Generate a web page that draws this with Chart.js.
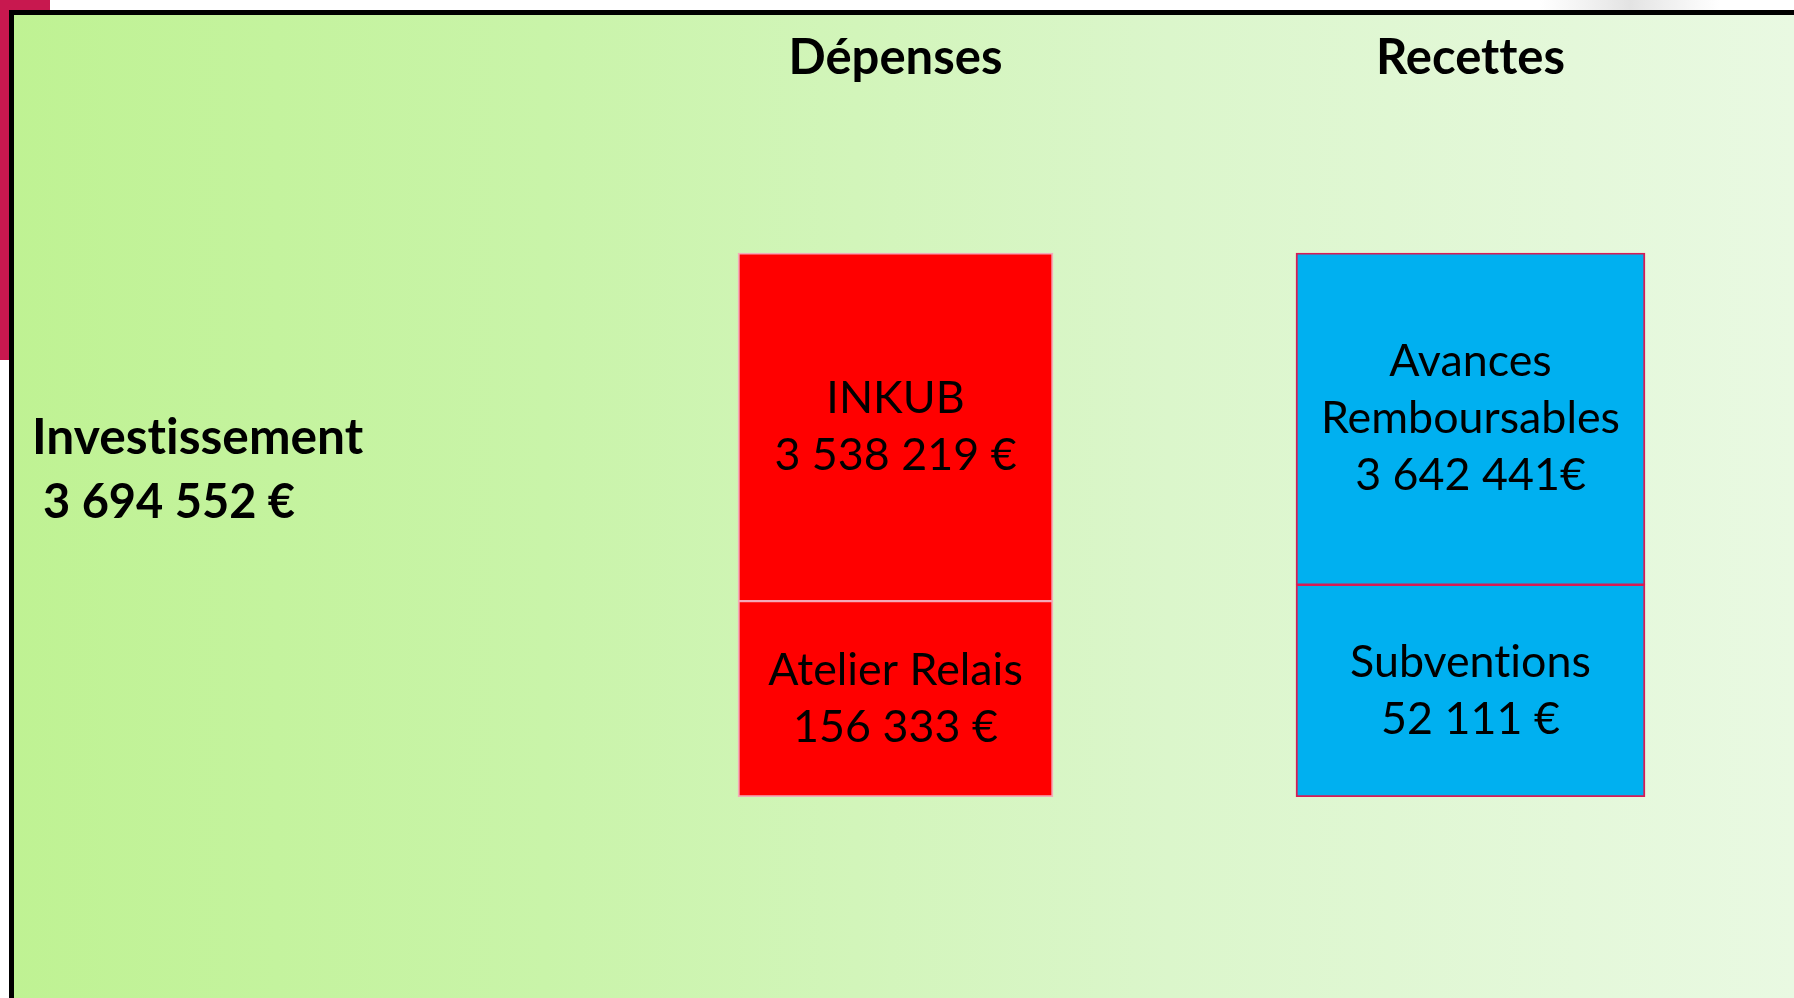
<!DOCTYPE html>
<html>
<head>
<meta charset="utf-8">
<script src="https://cdn.jsdelivr.net/npm/chart.js@4"></script>
<style>
  html, body { margin: 0; padding: 0; background: #fff; }
  canvas { display: block; }
</style>
</head>
<body>
<canvas id="myChart" width="1794" height="998"></canvas>
<script>
// columns of the chart
const categories = ['Dépenses', 'Recettes'];

// lower block of each column
const lowerNames = [['Atelier Relais'], ['Subventions']];
const lowerAmounts = [156333, 52111];
// upper block of each column
const upperNames = [['INKUB'], ['Avances', 'Remboursables']];
const upperAmounts = [3538219, 3642441];

// the blocks are not drawn to scale in the picture: share of column height (%) read off it
const lowerShares = [36, 39];
const upperShares = [64, 61];

// "3 642 441€" is written without the space in the original
const upperTight = [false, true];

const rowLabel = 'Investissement';

const FONT = 'Lato';

// format 3694552 -> "3 694 552 €"
function fmt(n, tight) {
  const s = String(n).replace(/\B(?=(\d{3})+(?!\d))/g, ' ');
  return s + (tight ? '€' : ' €');
}

// pick a font size so that text has a given width
function fitSize(text, weight, target) {
  const c = document.createElement('canvas').getContext('2d');
  c.font = weight + ' 100px ' + FONT;
  return 100 * target / c.measureText(text).width;
}

const total = lowerAmounts[0] + upperAmounts[0];

const headSize = fitSize('Dépenses', 'bold', 214);
const boxSize = fitSize('Remboursables', 'normal', 299);
const rowSize = fitSize(rowLabel, 'bold', 332);
const totalSize = fitSize(fmt(total, false), 'bold', 252);

const fills = ['#ff0000', '#00b0f0'];
const edges = ['#f4a9b8', '#d81b55'];
const widths = [315, 349];

// one dataset per block, only filled in its own column
const datasets = [];
categories.forEach((cat, i) => {
  datasets.push({
    label: lowerNames[i].join(' '),
    names: lowerNames[i],
    amount: fmt(lowerAmounts[i], false),
    data: categories.map((_, j) => (j === i ? lowerShares[i] : null)),
    stack: 'col',
    barThickness: widths[i],
    backgroundColor: fills[i],
    borderColor: edges[i],
    borderWidth: { left: 2, right: 2, bottom: 2, top: 1.5 },
    borderSkipped: false,
  });
});
categories.forEach((cat, i) => {
  datasets.push({
    label: upperNames[i].join(' '),
    names: upperNames[i],
    amount: fmt(upperAmounts[i], upperTight[i]),
    data: categories.map((_, j) => (j === i ? upperShares[i] : null)),
    stack: 'col',
    barThickness: widths[i],
    backgroundColor: fills[i],
    borderColor: edges[i],
    borderWidth: { left: 2, right: 2, top: 2, bottom: 1.5 },
    borderSkipped: false,
  });
});

// slide background: pink tab, green gradient, black frame
const backdrop = {
  id: 'backdrop',
  beforeDraw(chart) {
    const ctx = chart.ctx;
    ctx.save();
    ctx.fillStyle = '#ffffff';
    ctx.fillRect(0, 0, chart.width, chart.height);

    const shade = ctx.createLinearGradient(1540, 0, 1720, 0);
    shade.addColorStop(0, 'rgba(220,220,220,0)');
    shade.addColorStop(0.5, 'rgba(215,215,215,0.7)');
    shade.addColorStop(1, 'rgba(220,220,220,0)');
    ctx.fillStyle = shade;
    ctx.fillRect(1540, 0, 180, 10);

    ctx.fillStyle = '#c8184f';
    ctx.beginPath();
    ctx.roundRect(-60, -60, 110, 420, 40);
    ctx.fill();

    const g = ctx.createLinearGradient(9, 0, chart.width, 0);
    g.addColorStop(0, '#bff293');
    g.addColorStop(0.3, '#c9f4a9');
    g.addColorStop(0.65, '#dbf6cb');
    g.addColorStop(1, '#e9f9e2');
    ctx.fillStyle = g;
    ctx.fillRect(9, 10, chart.width, chart.height);

    ctx.fillStyle = '#000';
    ctx.fillRect(9, 10, chart.width, 5);
    ctx.fillRect(9, 10, 5, chart.height);
    ctx.restore();
    // keep "tt" as two letters, as in the original
    ctx.letterSpacing = '0.01px';
  }
};

// names and amounts written in the blocks, plus the row label on the left
const blockText = {
  id: 'blockText',
  afterDatasetsDraw(chart) {
    const ctx = chart.ctx;
    ctx.save();
    ctx.fillStyle = '#000';
    ctx.textAlign = 'center';
    ctx.textBaseline = 'middle';
    ctx.font = 'normal ' + boxSize + 'px ' + FONT;
    const step = 57;
    chart.data.datasets.forEach((ds, d) => {
      chart.getDatasetMeta(d).data.forEach((bar, k) => {
        if (ds.data[k] == null) return;
        const lines = ds.names.concat([ds.amount]);
        const cy = (bar.y + bar.base) / 2;
        const y0 = cy - (lines.length - 1) * step / 2;
        lines.forEach((t, n) => ctx.fillText(t, bar.x, y0 + n * step));
      });
    });

    ctx.textAlign = 'left';
    ctx.font = 'bold ' + rowSize + 'px ' + FONT;
    ctx.fillText(rowLabel, 32, 438);
    ctx.font = 'bold ' + totalSize + 'px ' + FONT;
    ctx.fillText(fmt(total, false), 43, 503);
    ctx.restore();
  }
};

const canvas = document.getElementById('myChart').getContext('2d');
new Chart(canvas, {
  type: 'bar',
  data: { labels: categories, datasets: datasets },
  options: {
    responsive: false,
    animation: false,
    layout: { padding: { top: 29, bottom: 201, left: 608, right: 36 } },
    plugins: {
      legend: { display: false },
      tooltip: { enabled: false },
      title: { display: false },
    },
    scales: {
      x: {
        stacked: true,
        position: 'top',
        offset: true,
        border: { display: false },
        grid: { color: 'transparent', drawOnChartArea: false, tickLength: 165 },
        ticks: {
          padding: 0,
          color: '#000',
          font: { family: FONT, size: headSize, weight: 'bold' },
        },
      },
      y: {
        stacked: true,
        min: 0,
        max: 100,
        display: false,
      },
    },
  },
  plugins: [backdrop, blockText],
});
</script>
</body>
</html>
